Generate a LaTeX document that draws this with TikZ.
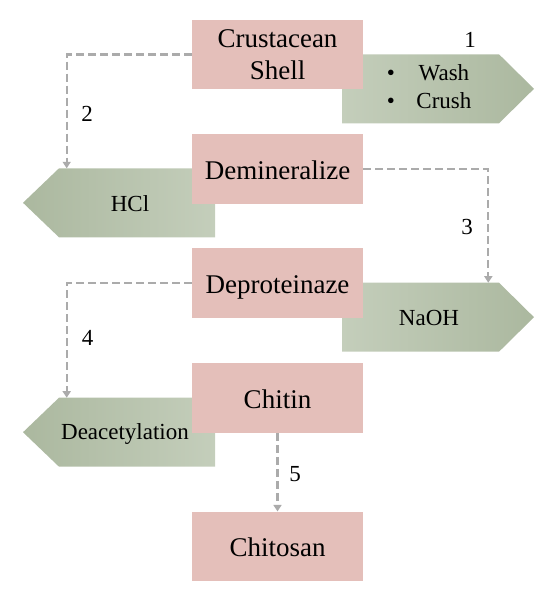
\documentclass[tikz,border=0pt]{standalone}
\usepackage{fontspec}
\setmainfont{Liberation Serif}
\usepackage{xcolor}
\usepackage{tikz}
\usetikzlibrary{arrows.meta}

\definecolor{stagepink}{HTML}{E4BFBA}
\definecolor{steplight}{HTML}{C4CEBB}
\definecolor{stepdark}{HTML}{ABB89F}
\definecolor{conngray}{HTML}{ABABAB}
\newcommand{\stagefont}{\fontsize{27}{32.4}\selectfont}
\newcommand{\notefont}{\fontsize{23}{28}\selectfont}

\begin{document}
\begin{tikzpicture}[x=1pt,y=1pt,yscale=-1,
    stage/.style={fill=stagepink,minimum width=171.5pt,minimum height=69.5pt,inner sep=0pt,font=\stagefont},
    oneline/.style={text height=21pt,text depth=0pt},
    conn/.style={draw=conngray,line width=2.2pt,dash pattern=on 8pt off 4pt,-{Triangle[width=8pt,length=6.5pt]}},
    note/.style={inner sep=0pt,font=\notefont}]
\useasboundingbox (0,0) rectangle (554,599);

        % green steps
        \shade [left color=steplight, right color=stepdark] (342,54.3) -- (499,54.3) -- (534,88.8) -- (499,123.3) -- (342,123.3) -- cycle;
        \shade [left color=stepdark, right color=steplight] (215,168.3) -- (59,168.3) -- (23,202.8) -- (59,237.3) -- (215,237.3) -- cycle;
        \shade [left color=steplight, right color=stepdark] (342,282.7) -- (499,282.7) -- (534,317.2) -- (499,351.7) -- (342,351.7) -- cycle;
        \shade [left color=stepdark, right color=steplight] (215,397.7) -- (59,397.7) -- (23,432.2) -- (59,466.7) -- (215,466.7) -- cycle;
        \coordinate (hcltop) at (66.7,168.3);
        \coordinate (naohtop) at (488.3,282.7);
        \coordinate (deactop) at (66.7,397.7);

        \draw (429.2,88.8) node [note] (wash) {\begin{tabular}{@{}c@{\hspace{21.5pt}}c@{}}\textbullet & Wash\\ \textbullet & Crush\end{tabular}};
        \draw (130,204) node [note] (hcl) {HCl};
        \draw (429,318) node [note] (naoh) {NaOH};
        \draw (125,439) node [note,anchor=base] (deac) {Deacetylation};

        % stages
        \draw (277.5,54.5) node [stage,align=center] (shell) {Crustacean\\Shell};
        \draw (277.5,169.2) node [stage,oneline] (demin) {Demineralize};
        \draw (277.5,283) node [stage,oneline] (deprot) {Deproteinaze};
        \draw (277.5,397.8) node [stage,oneline] (chitin) {Chitin};
        \draw (277.5,546.4) node [stage,oneline] (chitosan) {Chitosan};

        % connectors
        \draw [conn] (shell.west) -| (hcltop);
        \draw [conn] (demin.east) -| (naohtop);
        \draw [conn] (deprot.west) -| (deactop);
        \draw [conn] (chitin.south) -- (chitosan.north);

        \draw (470,40) node [note] (n1) {1};
        \draw (87,114) node [note] (n2) {2};
        \draw (467,227) node [note] (n3) {3};
        \draw (87.5,338) node [note] (n4) {4};
        \draw (295,474) node [note] (n5) {5};
    \end{tikzpicture}
\end{document}
